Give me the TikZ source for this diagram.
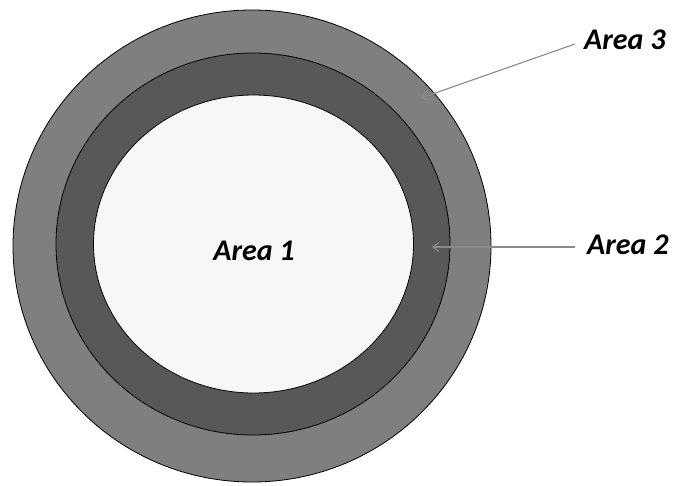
\documentclass[tikz,border=0pt]{standalone}
\usepackage{fontspec}
\setmainfont{Carlito}
\usetikzlibrary{arrows.meta}
\definecolor{ringout}{HTML}{7F7F7F}
\definecolor{ringmid}{HTML}{585858}
\definecolor{core}{HTML}{F7F7F7}
\definecolor{leader}{HTML}{8A8A8A}
\tikzset{
  ring/.style={draw=black, line width=0.8pt},
  lbl/.style={font=\fontsize{30}{33}\selectfont\bfseries\itshape, inner sep=0pt},
  pointer/.style={draw=leader, line width=1.1pt, -{Straight Barb[length=6pt,width=9pt]}}
}
\begin{document}
\begin{tikzpicture}[x=1pt,y=-1pt]
\useasboundingbox (0,0) rectangle (675,485);
\fill[white] (0,0) rectangle (675,485);
\path[ring, fill=ringout] (252,246) ellipse [x radius=239, y radius=236];
\path[ring, fill=ringmid] (253,244) ellipse [x radius=197, y radius=191];
\path[ring, fill=core] (253.5,244) ellipse [x radius=160, y radius=149];
\node[lbl] (a1) at (254,251) {Area 1};
\node[lbl, anchor=west] (a3) at (584,40) {Area 3};
\node[lbl, anchor=west] (a2) at (587,245) {Area 2};
\coordinate (t3) at (421,98);
\coordinate (t2) at (432,247);
\draw[pointer] (575,44) -- (t3);
\draw[pointer] (575,247) -- (t2);
\end{tikzpicture}
\end{document}
